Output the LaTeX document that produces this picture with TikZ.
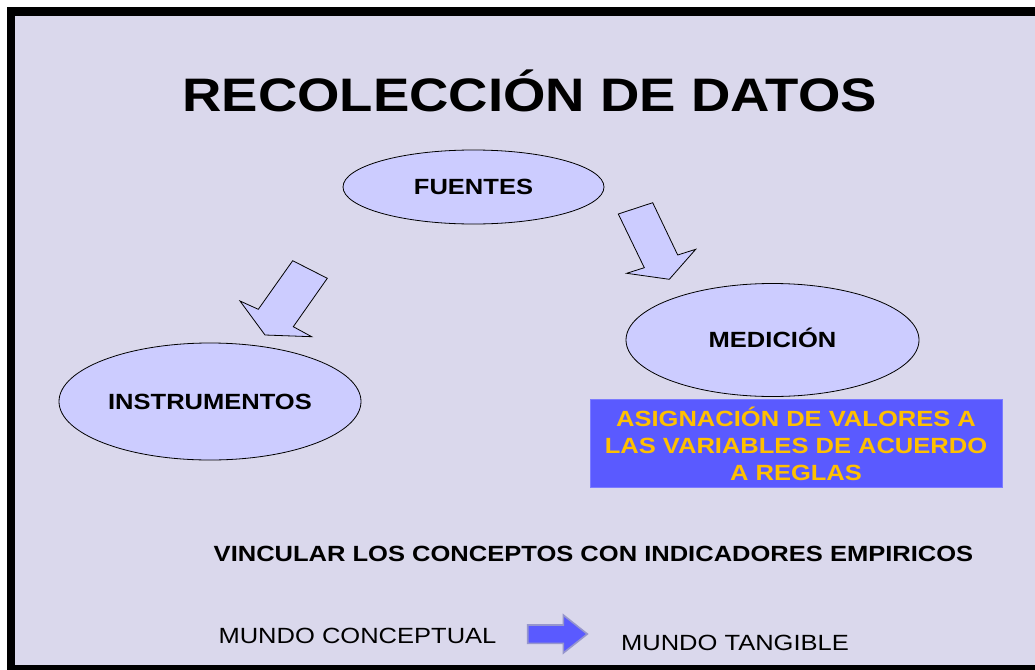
\documentclass[tikz,border=0pt]{standalone}
\usepackage{fontspec}
\setmainfont{Liberation Sans}
\usetikzlibrary{shapes.geometric}
\definecolor{bgl}{RGB}{218,216,236}
\definecolor{ellfill}{RGB}{204,204,255}
\definecolor{boxblue}{RGB}{90,90,255}
\definecolor{gold}{RGB}{255,192,0}
\definecolor{arrowedge}{RGB}{150,150,205}
\newcommand{\sx}[1]{\scalebox{1.16}[1]{#1}}
\newcommand{\txt}{\fontsize{22}{27}\selectfont}
\tikzset{
  ell/.style={ellipse, draw=black, line width=0.8pt, fill=ellfill, inner sep=0pt,
    text height=15.8pt, text depth=0pt, font=\txt\bfseries},
  blockarrow/.style={draw=black, line width=0.8pt, fill=ellfill, line join=miter},
  lbl/.style={anchor=base, inner sep=0pt},
}
\begin{document}
\begin{tikzpicture}[x=1pt, y=-1pt]
\useasboundingbox (0,0) rectangle (1035,669);
\clip (0,0) rectangle (1035,669);
\fill[white] (0,0) rectangle (1035,669);
% frame
\fill[bgl] (11,11) rectangle (1040,668);
\draw[black, line width=8.4pt] (11.2,11.5) rectangle (1045,669);
% title
\node[lbl] (title) at (529.7,111) {\fontsize{47}{56}\selectfont\bfseries\sx{RECOLECCIÓN DE DATOS}};
% ellipses
\node[ell, minimum width=261pt, minimum height=74pt] (fuentes) at (473.5,187) {\sx{FUENTES}};
\node[ell, minimum width=293pt, minimum height=113pt] (medicion) at (772.5,340) {\sx{MEDICIÓN}};
\node[ell, minimum width=302pt, minimum height=117pt] (instr) at (210,401.5) {\sx{INSTRUMENTOS}};
% block arrows
\draw[blockarrow] (292.7,260.7) -- (327.3,278.3) -- (293.3,326.7) -- (311.7,336.7)
  -- (265,335) -- (240,301) -- (258.3,309.3) -- cycle;
\draw[blockarrow] (618.3,214) -- (652.7,202.7) -- (677.7,255) -- (695.7,249.3)
  -- (669.3,279.3) -- (626.7,273.3) -- (644.3,267.7) -- cycle;
% blue box
\node[fill=boxblue, draw=boxblue!80!white, line width=0.6pt, minimum width=412.5pt, minimum height=88.7pt, inner sep=0pt] (box) at (796.2,443.3) {};
\node[lbl, text=gold] (l1) at (796,426) {\txt\bfseries\sx{ASIGNACIÓN DE VALORES A}};
\node[lbl, text=gold] (l2) at (796,453) {\txt\bfseries\sx{LAS VARIABLES DE ACUERDO}};
\node[lbl, text=gold] (l3) at (796,480) {\txt\bfseries\sx{A REGLAS}};
% bottom texts
\node[lbl] (vinc) at (593.5,561) {\txt\bfseries\sx{VINCULAR LOS CONCEPTOS CON INDICADORES EMPIRICOS}};
\node[lbl] (conc) at (357.5,643) {\txt\sx{MUNDO CONCEPTUAL}};
\node[lbl] (tang) at (735,650) {\txt\sx{MUNDO TANGIBLE}};
% small arrow
\draw[fill=boxblue, draw=arrowedge, line width=1.6pt, line join=miter]
  (527.7,625) -- (563.3,625) -- (563.3,615) -- (587.3,634) -- (563.3,653)
  -- (563.3,643.3) -- (527.7,643.3) -- cycle;
\end{tikzpicture}
\end{document}
